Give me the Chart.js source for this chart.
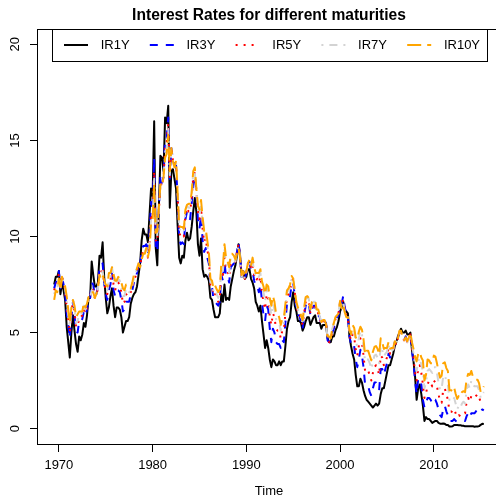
<!DOCTYPE html>
<html>
<head>
<meta charset="utf-8">
<script src="https://cdn.jsdelivr.net/npm/chart.js@4.4.1/dist/chart.umd.min.js"></script>
<style>
html,body{margin:0;padding:0;background:#fff;overflow:hidden;width:496px;height:498px;}
#wrap{position:absolute;left:0;top:0;width:504px;height:498px;}
</style>
</head>
<body>
<div id="wrap"><canvas id="c" width="504" height="498"></canvas></div>
<script>
// Time series: bimonthly observations starting July 1969
const startYear = 1969.5;
const frequency = 6;
const xTickLabels = [1970, 1980, 1990, 2000, 2010];
const yTickLabels = [0, 5, 10, 15, 20];
const seriesNames = ["IR1Y", "IR3Y", "IR5Y", "IR7Y", "IR10Y"];

const ir1y = [
7.5,7.9,7.9,
8.2,7.0,7.6,7.2,6.7,5.3,
4.5,3.7,5.0,5.9,5.1,4.4,
4.0,4.8,4.6,4.9,5.5,5.3,
5.9,6.8,6.8,8.7,8.0,7.4,
7.4,7.6,9.0,8.9,9.7,7.9,
6.8,6.0,6.3,6.9,7.3,6.4,
5.8,6.3,6.3,6.2,5.8,5.0,
5.3,5.6,5.6,5.8,6.5,6.8,
7.0,7.1,7.4,8.0,8.6,9.8,
10.4,10.1,10.1,9.7,11.1,12.5,
12.1,16.0,9.4,8.5,11.5,14.2,
14.1,13.4,16.2,15.9,16.8,11.5,
13.4,13.5,13.0,12.5,10.6,8.9,
8.6,9.0,8.9,9.8,10.2,9.8,
9.9,10.5,11.3,12.0,11.3,9.6,
9.0,9.9,8.3,7.9,8.0,7.9,
7.7,6.8,6.7,6.2,5.8,5.8,
5.8,6.0,7.0,6.6,7.5,6.7,
6.8,6.7,7.4,7.8,8.2,8.5,
9.0,9.6,9.0,7.9,8.2,7.8,
7.9,8.3,8.3,7.8,7.6,7.3,
6.6,6.4,6.1,6.4,5.6,4.9,
4.2,4.6,4.2,3.6,3.2,3.6,
3.5,3.3,3.3,3.5,3.3,3.5,
3.5,4.3,5.2,5.6,5.8,6.6,
7.1,6.4,6.1,5.6,5.6,5.5,
5.1,5.3,5.6,5.8,5.8,5.4,
5.6,5.8,5.9,5.5,5.5,5.5,
5.2,5.4,5.4,5.4,4.7,4.5,
4.5,4.8,4.8,5.1,5.3,5.6,
6.1,6.3,6.6,6.2,6.1,6.0,
4.8,4.3,3.9,3.6,2.8,2.2,
2.2,2.6,2.4,2.0,1.7,1.5,
1.4,1.3,1.2,1.1,1.2,1.3,
1.2,1.3,1.8,2.1,2.1,2.5,
2.9,3.3,3.3,3.6,3.9,4.3,
4.5,4.8,5.0,5.2,5.0,5.0,
5.1,4.9,4.9,5.0,4.1,3.5,
2.7,1.5,2.1,2.3,1.8,1.2,
0.4,0.6,0.5,0.5,0.4,0.3,
0.35,0.4,0.4,0.3,0.26,0.25,
0.27,0.25,0.19,0.19,0.11,0.11,
0.12,0.19,0.19,0.19,0.18,0.18,
0.15,0.15,0.12,0.12,0.12,0.12,
0.12,0.13,0.10,0.11,0.11,0.13,
0.20,0.25,0.24
];

const ir3y = [
7.3,7.6,7.7,
8.2,7.3,7.9,7.5,7.1,6.0,
5.4,4.7,5.8,6.6,5.9,5.1,
5.0,5.6,5.6,5.7,6.1,5.9,
6.2,6.8,6.8,7.6,7.5,6.9,
7.0,7.4,8.4,8.4,8.6,7.6,
7.0,6.7,7.2,7.5,8.1,7.2,
6.9,7.2,7.2,7.1,6.7,6.1,
6.2,6.6,6.6,6.6,7.0,7.2,
7.6,7.8,8.1,8.6,8.5,9.3,
9.5,9.5,9.6,9.1,10.1,11.8,
11.4,14.1,9.5,9.2,11.4,13.2,
12.8,13.1,15.1,15.1,16.2,13.0,
14.6,14.0,13.8,13.7,12.0,9.9,
9.6,9.7,9.6,10.9,11.3,11.0,
10.9,11.7,12.8,13.1,12.3,10.9,
10.4,11.1,9.8,9.2,9.4,8.9,
8.6,7.4,7.4,6.7,6.6,6.5,
6.4,6.6,8.0,7.7,8.7,7.9,
7.9,7.6,8.4,8.5,8.6,8.6,
9.2,9.7,9.0,7.9,8.2,7.8,
8.1,8.6,8.7,8.2,8.2,7.7,
7.4,7.4,7.1,7.5,6.6,5.9,
5.6,6.4,6.2,5.2,4.5,5.2,
5.0,4.5,4.4,4.4,4.2,4.6,
4.5,5.5,6.5,6.7,6.9,7.5,
7.6,6.9,6.3,5.9,5.9,5.5,
5.2,5.9,6.4,6.6,6.5,5.9,
6.2,6.4,6.4,5.9,5.9,5.8,
5.4,5.6,5.6,5.5,4.6,4.5,
4.6,5.0,5.2,5.6,5.8,5.9,
6.5,6.5,6.9,6.3,6.0,5.8,
4.8,4.4,4.5,4.3,3.6,3.2,
3.6,4.1,3.8,3.2,2.3,2.3,
2.2,1.9,1.7,2.1,2.4,2.4,
2.3,2.0,3.1,3.1,2.8,3.1,
3.4,3.9,3.7,3.9,4.0,4.5,
4.4,4.7,5.0,5.0,4.7,4.6,
4.8,4.5,4.7,4.8,4.1,3.4,
2.5,1.8,2.6,2.6,2.3,1.5,
1.1,1.3,1.6,1.6,1.5,1.3,
1.5,1.5,1.3,1.0,0.7,0.6,
1.0,1.2,0.9,0.7,0.4,0.4,
0.4,0.5,0.4,0.35,0.35,0.35,
0.4,0.4,0.4,0.65,0.8,0.6,
0.8,0.8,0.8,0.9,1.05,1.0,
0.9,1.0,0.95
];

const ir5y = [
7.2,7.5,7.5,
8.1,7.3,7.9,7.6,7.2,6.3,
5.7,5.0,6.0,6.7,6.1,5.3,
5.3,5.8,5.8,5.9,6.2,6.0,
6.3,6.8,6.8,7.3,7.2,6.8,
6.95,7.3,8.2,8.1,8.4,7.6,
7.2,7.0,7.6,7.7,8.3,7.5,
7.2,7.5,7.6,7.5,7.1,6.5,
6.6,7.0,6.9,6.9,7.1,7.3,
7.7,7.9,8.2,8.6,8.4,9.0,
9.2,9.3,9.4,8.9,9.6,11.2,
10.9,13.4,9.8,9.7,11.3,12.8,
12.6,13.1,14.6,14.8,15.9,13.1,
14.6,14.0,13.7,13.8,12.2,10.2,
10.0,10.1,10.0,11.2,11.5,11.3,
11.3,12.0,13.1,13.3,12.4,11.3,
10.9,11.5,10.4,9.7,9.9,9.3,
8.9,7.5,7.5,6.9,7.0,6.8,
6.6,6.8,8.3,8.0,9.1,8.4,
8.2,7.9,8.7,8.7,8.7,8.7,
9.2,9.6,8.9,7.8,8.1,7.8,
8.1,8.6,8.7,8.3,8.5,8.0,
7.7,7.8,7.6,7.9,7.1,6.6,
6.2,7.0,6.8,5.8,5.4,6.0,
5.8,5.2,5.1,5.1,4.7,5.1,
5.1,6.0,6.9,7.0,7.2,7.7,
7.8,7.1,6.4,6.0,6.0,5.7,
5.4,6.0,6.6,6.7,6.6,6.0,
6.3,6.5,6.5,6.0,6.0,5.8,
5.4,5.6,5.6,5.5,4.6,4.5,
4.6,5.1,5.4,5.7,5.8,6.0,
6.6,6.5,6.7,6.2,5.9,5.8,
4.9,4.6,4.9,4.8,4.1,3.8,
4.3,4.7,4.5,3.8,3.0,3.1,
3.0,2.8,2.5,2.9,3.2,3.3,
3.1,2.8,3.8,3.7,3.3,3.5,
3.7,4.2,3.9,4.0,4.0,4.5,
4.35,4.7,5.0,5.0,4.7,4.6,
4.75,4.5,4.7,4.9,4.2,3.7,
2.9,2.5,3.1,3.3,2.9,2.3,
1.6,1.8,2.3,2.5,2.4,2.2,
2.5,2.4,2.2,1.8,1.4,1.35,
2.0,2.1,1.8,1.5,0.9,0.9,
0.85,1.0,0.8,0.6,0.7,0.65,
0.8,0.8,0.8,1.4,1.6,1.4,
1.7,1.65,1.6,1.7,1.8,1.6,
1.4,1.5,1.5
];

const ir7y = [
7.0,7.3,7.4,
7.9,7.3,7.9,7.6,7.3,6.6,
5.9,5.3,6.1,6.7,6.2,5.5,
5.6,6.0,6.0,6.0,6.4,6.2,
6.4,6.8,6.8,7.2,7.15,6.8,
7.0,7.3,8.1,8.0,8.2,7.65,
7.35,7.2,7.8,7.9,8.4,7.8,
7.5,7.6,7.8,7.7,7.35,6.9,
6.9,7.3,7.2,7.1,7.2,7.45,
7.8,8.0,8.3,8.6,8.4,8.9,
9.1,9.2,9.4,8.9,9.5,10.9,
10.9,13.0,10.0,10.0,11.4,12.7,
12.6,13.1,14.4,14.6,15.6,13.2,
14.6,13.9,13.6,13.9,12.3,10.4,
10.3,10.3,10.2,11.3,11.6,11.5,
11.5,12.2,13.3,13.3,12.5,11.4,
11.1,11.7,10.7,10.0,10.1,9.5,
9.1,7.6,7.6,7.1,7.2,7.0,
6.8,7.0,8.5,8.2,9.3,8.6,
8.4,8.1,8.9,8.9,8.8,8.7,
9.2,9.5,8.9,7.9,8.15,7.8,
8.1,8.6,8.7,8.4,8.7,8.2,
7.9,8.0,7.9,8.1,7.4,7.1,
6.6,7.3,7.2,6.4,5.9,6.5,
6.2,5.7,5.6,5.5,5.1,5.5,
5.5,6.3,7.1,7.2,7.35,7.85,
7.8,7.2,6.5,6.2,6.1,5.8,
5.5,6.2,6.8,6.8,6.75,6.1,
6.5,6.6,6.6,6.1,6.1,5.85,
5.5,5.65,5.65,5.5,4.7,4.7,
4.7,5.2,5.5,5.8,5.9,6.05,
6.7,6.4,6.6,6.1,5.85,5.8,
5.1,4.8,5.2,5.1,4.5,4.3,
4.7,5.1,4.9,4.3,3.5,3.6,
3.6,3.4,3.1,3.5,3.8,3.85,
3.7,3.4,4.3,4.1,3.75,3.9,
4.0,4.4,4.0,4.1,4.1,4.5,
4.4,4.7,5.05,5.05,4.7,4.6,
4.75,4.5,4.7,4.95,4.4,3.9,
3.3,3.0,3.5,3.7,3.3,3.0,
2.1,2.4,3.0,3.1,3.0,2.9,
3.2,3.2,2.9,2.4,2.0,2.1,
2.7,2.8,2.5,2.3,1.5,1.5,
1.4,1.6,1.3,1.0,1.2,1.1,
1.3,1.4,1.3,2.0,2.3,2.1,
2.5,2.3,2.2,2.2,2.2,2.0,
1.6,1.8,1.9
];

const ir10y = [
6.7,7.2,7.1,
7.8,7.2,7.9,7.6,7.4,6.9,
6.2,5.5,6.3,6.7,6.4,5.8,
5.95,6.1,6.1,6.1,6.55,6.3,
6.5,6.85,6.85,7.1,7.1,6.8,
7.0,7.3,8.0,7.8,8.0,7.7,
7.5,7.4,8.1,8.1,8.4,8.05,
7.7,7.7,7.9,7.8,7.6,7.3,
7.2,7.5,7.5,7.3,7.3,7.6,
8.0,8.1,8.35,8.6,8.4,8.8,
9.1,9.1,9.4,8.95,9.3,10.65,
10.8,12.75,10.2,10.25,11.5,12.7,
12.6,13.1,14.1,14.3,15.3,13.4,
14.6,13.9,13.6,13.95,12.3,10.55,
10.5,10.5,10.4,11.4,11.65,11.7,
11.7,12.3,13.4,13.6,12.5,11.6,
11.4,11.9,11.0,10.3,10.4,9.8,
9.2,7.8,7.7,7.3,7.45,7.25,
7.1,7.25,8.6,8.45,9.6,8.9,
8.7,8.4,9.1,9.1,9.0,8.8,
9.1,9.4,8.9,8.0,8.2,7.9,
8.2,8.6,8.8,8.5,8.9,8.4,
8.1,8.1,8.1,8.3,7.65,7.4,
7.0,7.5,7.4,6.8,6.4,6.9,
6.6,6.0,6.0,5.8,5.4,5.7,
5.75,6.5,7.2,7.3,7.5,7.95,
7.8,7.2,6.6,6.3,6.2,5.9,
5.65,6.3,6.85,6.9,6.8,6.2,
6.6,6.7,6.7,6.2,6.2,5.9,
5.55,5.65,5.65,5.45,4.8,4.8,
4.7,5.2,5.5,5.8,5.9,6.0,
6.65,6.25,6.45,6.05,5.8,5.8,
5.15,4.9,5.4,5.25,4.75,4.65,
5.05,5.3,5.15,4.65,3.85,4.05,
4.05,3.8,3.55,4.0,4.25,4.3,
4.15,3.85,4.7,4.5,4.15,4.2,
4.2,4.5,4.15,4.2,4.2,4.55,
4.4,4.7,5.1,5.1,4.7,4.6,
4.75,4.55,4.75,5.0,4.5,4.15,
3.75,3.5,3.9,4.0,3.7,3.55,
2.5,2.8,3.6,3.55,3.4,3.4,
3.8,3.75,3.4,3.0,2.65,2.75,
3.4,3.45,3.15,3.0,2.0,2.0,
1.95,2.15,1.8,1.55,1.7,1.65,
1.9,1.95,1.9,2.6,2.85,2.8,
3.0,2.7,2.55,2.55,2.55,2.35,
1.9,2.05,2.2
];

const seriesData = [ir1y, ir3y, ir5y, ir7y, ir10y];
const seriesColors = ["#000000", "#0000FF", "#FF0000", "#D3D3D3", "#FFA500"];
const seriesDash = [[], [8, 8], [2, 6], [2, 6, 8, 6], [14, 6]];

const timeAxis = ir1y.map((_, i) => startYear + i / frequency);
const tFirst = timeAxis[0], tLast = timeAxis[timeAxis.length - 1];
const tPad = (tLast - tFirst) * 0.04;
const FONT = '"Liberation Sans", Arial, Helvetica, sans-serif';

const datasets = seriesNames.map((name, k) => ({
  label: name,
  data: seriesData[k].map((v, i) => ({ x: timeAxis[i], y: v })),
  borderColor: seriesColors[k],
  borderWidth: 2,
  borderDash: seriesDash[k],
  borderCapStyle: 'butt',
  borderJoinStyle: 'round',
  pointRadius: 0,
  fill: false,
  tension: 0,
  order: seriesNames.length - k
}));

const decor = {
  id: 'decor',
  afterDraw(chart) {
    const ctx = chart.ctx;
    const a = chart.chartArea;
    const ys = chart.scales.y;
    ctx.save();
    ctx.strokeStyle = '#000';
    ctx.lineWidth = 1;
    ctx.strokeRect(Math.round(a.left) + 0.5, Math.round(a.top) + 0.5, Math.round(a.right - a.left), Math.round(a.bottom - a.top));
    ctx.fillStyle = '#000';
    ctx.font = '13px ' + FONT;
    ctx.textAlign = 'center';
    ctx.textBaseline = 'middle';
    yTickLabels.forEach(v => {
      const py = ys.getPixelForValue(v);
      ctx.save();
      ctx.translate(15, py);
      ctx.rotate(-Math.PI / 2);
      ctx.fillText(String(v), 0, 0);
      ctx.restore();
    });
    const cx = (a.left + a.right) / 2;
    ctx.font = 'bold 15.6px ' + FONT;
    ctx.textBaseline = 'alphabetic';
    ctx.fillText('Interest Rates for different maturities', cx, 19.5);
    ctx.font = '13px ' + FONT;
    ctx.fillText('Time', cx, 495);
    const lx0 = 52.5, lx1 = 487.5, ly0 = Math.round(a.top) + 0.5, ly1 = 61.5;
    ctx.fillStyle = '#fff';
    ctx.fillRect(lx0, ly0, lx1 - lx0, ly1 - ly0);
    ctx.strokeStyle = '#000';
    ctx.strokeRect(lx0, ly0, lx1 - lx0, ly1 - ly0);
    const ly = 45;
    seriesNames.forEach((name, k) => {
      const sx = 64 + k * 85.8;
      ctx.save();
      ctx.strokeStyle = seriesColors[k];
      ctx.lineWidth = 2;
      ctx.setLineDash(seriesDash[k]);
      ctx.beginPath();
      ctx.moveTo(sx, ly);
      ctx.lineTo(sx + 24, ly);
      ctx.stroke();
      ctx.restore();
      ctx.fillStyle = '#000';
      ctx.textAlign = 'left';
      ctx.textBaseline = 'middle';
      ctx.font = '13px ' + FONT;
      ctx.fillText(name, sx + 36.7, ly);
    });
    ctx.restore();
  }
};

new Chart(document.getElementById('c'), {
  type: 'line',
  data: { datasets },
  options: {
    responsive: false,
    animation: false,
    devicePixelRatio: 1,
    layout: { padding: { top: 29, right: 3, left: 0, bottom: 0 } },
    plugins: { legend: { display: false }, tooltip: { enabled: false }, title: { display: false } },
    scales: {
      x: {
        type: 'linear',
        min: tFirst - tPad,
        max: tLast + tPad,
        afterBuildTicks: s => { s.ticks = xTickLabels.map(v => ({ value: v })); },
        afterFit: s => { s.height = 54; },
        grid: { display: true, drawOnChartArea: false, drawTicks: true, tickLength: 8, color: '#000', lineWidth: 1 },
        border: { display: true, color: '#000', width: 1 },
        ticks: { color: '#000', font: { family: FONT, size: 13 }, padding: 6, maxRotation: 0, autoSkip: false, callback: v => String(v) }
      },
      y: {
        type: 'linear',
        min: -0.8,
        max: 20.8,
        afterBuildTicks: s => { s.ticks = yTickLabels.map(v => ({ value: v })); },
        afterFit: s => { s.width = 37; },
        grid: { display: true, drawOnChartArea: false, drawTicks: true, tickLength: 7, color: '#000', lineWidth: 1 },
        border: { display: true, color: '#000', width: 1 },
        ticks: { display: false }
      }
    }
  },
  plugins: [decor]
});
</script>
</body>
</html>
